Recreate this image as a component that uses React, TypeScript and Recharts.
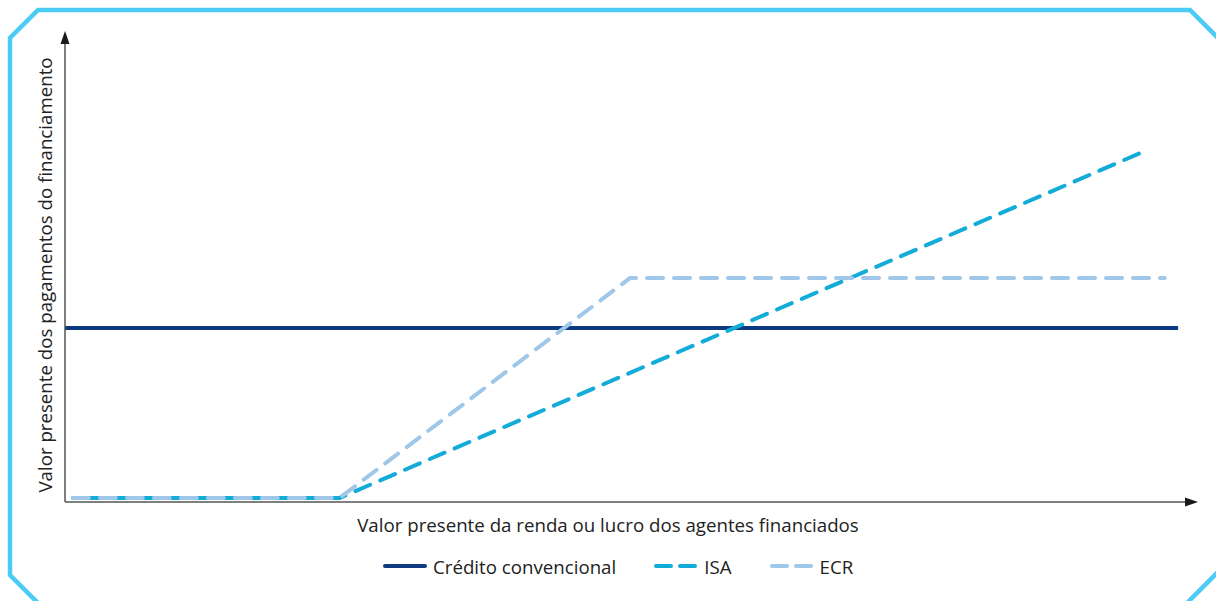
import { LineChart, Line, XAxis, YAxis, Legend } from "recharts";

// x and y in arbitrary units (0-100)
const creditoX = [0, 99.3];
const creditoY = [38, 38];
const isaX = [0.7, 24.5, 96.6];
const isaY = [0.9, 0.9, 76.9];
const ecrX = [0.7, 24.5, 50.4, 98.1];
const ecrY = [0.9, 0.9, 48.9, 48.9];

const seriesNames = ["Crédito convencional", "ISA", "ECR"];
const seriesColors = ["#0d3a80", "#13acd9", "#9fc7e9"];
const xLabel = "Valor presente da renda ou lucro dos agentes financiados";
const yLabel = "Valor presente dos pagamentos do financiamento";

const toRows = (xs: number[], ys: number[]) => xs.map((x, i) => ({ x, y: ys[i] }));

const FONT = "'Open Sans', 'Noto Sans', sans-serif";
const FS = 18.7;

function LegendContent() {
  return (
    <div
      style={{
        height: 48,
        display: "flex",
        alignItems: "center",
        paddingLeft: 383,
        paddingBottom: 22,
        boxSizing: "border-box",
        fontFamily: FONT,
        fontSize: FS,
        color: "#222",
      }}
    >
      {seriesNames.map((name, i) => (
        <div key={name} style={{ display: "flex", alignItems: "center", marginRight: 38 }}>
          <svg width={44} height={8} style={{ marginRight: 6 }}>
            <line
              x1={2}
              y1={4}
              x2={42}
              y2={4}
              stroke={seriesColors[i]}
              strokeWidth={4}
              strokeLinecap="round"
              strokeDasharray={i === 0 ? undefined : "15 9"}
            />
          </svg>
          <span>{name}</span>
        </div>
      ))}
    </div>
  );
}

export default function App() {
  return (
    <div style={{ position: "absolute", left: 0, top: 0, width: 1216, height: 601, background: "#fff" }}>
      <LineChart width={1216} height={601} margin={{ top: 44, right: 30, bottom: 0, left: 0 }}>
        <XAxis
          type="number"
          dataKey="x"
          domain={[0, 100]}
          allowDataOverflow
          tick={false}
          tickLine={false}
          height={51}
          axisLine={{ stroke: "#555", strokeWidth: 1.5 }}
          label={{
            content: () => (
              <text
                x={608}
                y={524}
                textAnchor="middle"
                dominantBaseline="central"
                style={{ fontFamily: FONT, fontSize: FS, fill: "#222" }}
              >
                {xLabel}
              </text>
            ),
          }}
        />
        <YAxis
          type="number"
          dataKey="y"
          domain={[0, 100]}
          allowDataOverflow
          tick={false}
          tickLine={false}
          width={65}
          axisLine={{ stroke: "#555", strokeWidth: 1.5 }}
          label={{
            content: () => (
              <text
                x={44}
                y={275}
                transform="rotate(-90 44 275)"
                textAnchor="middle"
                dominantBaseline="central"
                style={{ fontFamily: FONT, fontSize: FS, fill: "#222" }}
              >
                {yLabel}
              </text>
            ),
          }}
        />
        <Legend verticalAlign="bottom" wrapperStyle={{ left: 0, width: 1216 }} content={LegendContent} />
        <Line
          data={toRows(creditoX, creditoY)}
          dataKey="y"
          name={seriesNames[0]}
          type="linear"
          stroke={seriesColors[0]}
          strokeWidth={4}
          dot={false}
          activeDot={false}
          isAnimationActive={false}
        />
        <Line
          data={toRows(isaX, isaY)}
          dataKey="y"
          name={seriesNames[1]}
          type="linear"
          stroke={seriesColors[1]}
          strokeWidth={4}
          strokeLinecap="round"
          strokeDasharray="16 11"
          strokeDashoffset={-14}
          dot={false}
          activeDot={false}
          isAnimationActive={false}
        />
        <Line
          data={toRows(ecrX, ecrY)}
          dataKey="y"
          name={seriesNames[2]}
          type="linear"
          stroke={seriesColors[2]}
          strokeWidth={4}
          strokeLinecap="round"
          strokeDasharray="16 11"
          dot={false}
          activeDot={false}
          isAnimationActive={false}
        />
      </LineChart>
      <svg
        width={1216}
        height={601}
        style={{ position: "absolute", left: 0, top: 0, pointerEvents: "none" }}
      >
        <polygon
          points="38,10 1190,10 1232,52 1232,558 1179,611 46,611 10,575 10,38"
          fill="none"
          stroke="#4ccbf4"
          strokeWidth={4.5}
        />
        <polygon points="65,31 60.5,44 69.5,44" fill="#1a1a1a" />
        <polygon points="1198,502 1185,497.5 1185,506.5" fill="#1a1a1a" />
      </svg>
    </div>
  );
}
